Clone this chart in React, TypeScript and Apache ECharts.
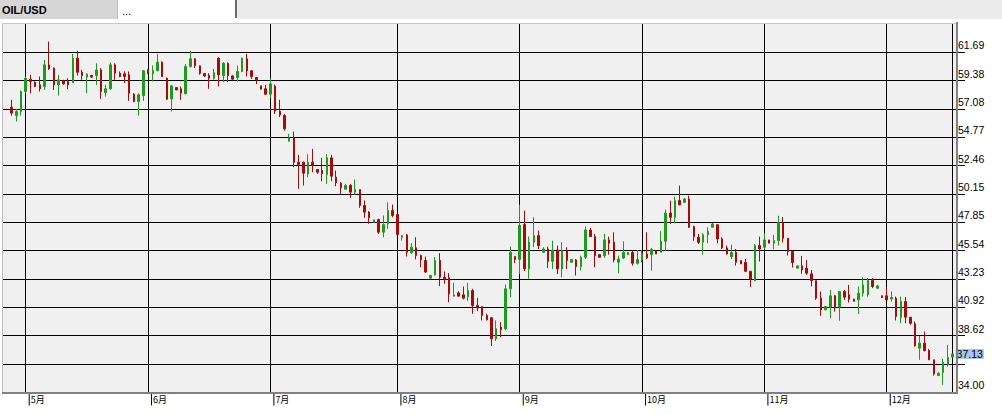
import React, { useEffect, useRef } from "react";
import * as echarts from "echarts";

// ---- data ----
const opens = [
  57.21, 56.53, 56.86, 58.49, 59.49, 59.25, 59.03, 58.9, 60.66, 60.39,
  59.03, 59.38, 59.3, 59.22, 61.2, 60.06, 59.66, 59.79, 59.79, 60.25,
  58.41, 58.71, 60.66, 59.98, 59.93, 59.85, 58.27, 57.67, 58.16, 60.25,
  59.93, 60.2, 60.88, 59.57, 57.89, 58.81, 58.71, 58.3, 60.52, 61.15,
  60.58, 59.95, 59.79, 59.57, 61.2, 59.79, 60.79, 59.76, 59.63, 60.12,
  61.15, 60.17, 59.63, 58.95, 58.71, 58.27, 58.92, 56.89, 56.53, 54.44,
  54.71, 52.74, 52.74, 51.79, 52.74, 52.14, 52.06, 51.73, 53.09, 51.52,
  51.03, 50.54, 50.84, 50.3, 50.51, 49.21, 48.67, 47.85, 48.07, 47.04,
  47.72, 48.8, 48.48, 46.63, 46.82, 45.37, 45.77, 45.14, 44.74, 43.3,
  43.57, 44.74, 43.38, 43.33, 41.83, 42.1, 41.94, 41.78, 42.29, 41.07,
  40.99, 40.26, 40.07, 38.36, 39.31, 39.18, 42.43, 45.06, 44.82, 47.66,
  44.06, 46.22, 46.76, 45.4, 45.67, 44.67, 45.59, 44.05, 45.54, 44.59,
  44.78, 44.24, 45.0, 47.22, 46.68, 45.21, 45.13, 46.41, 46.22, 44.59,
  44.94, 45.21, 45.4, 44.51, 44.78, 45.27, 45.22, 45.54, 45.4, 46.3,
  48.6, 48.25, 49.61, 49.47, 49.74, 47.49, 46.62, 46.22, 46.84, 47.44,
  47.65, 46.49, 45.76, 45.05, 45.4, 44.73, 44.59, 43.86, 43.1, 45.95,
  45.82, 46.41, 46.14, 46.36, 47.82, 46.55, 45.46, 44.11, 44.3, 44.11,
  43.65, 43.1, 41.67, 40.72, 40.93, 41.86, 40.99, 42.21, 41.94, 41.59,
  41.53, 42.07, 41.94, 43.1, 42.48, 41.86, 41.86, 41.61, 41.67, 40.1,
  41.4, 40.12, 39.58, 37.6, 38.01, 37.41, 36.65, 35.37, 35.62, 36.24,
  36.87,
];
const highs = [
  57.81, 57.08, 58.57, 59.71, 59.85, 59.3, 59.71, 61.07, 62.56, 60.44,
  59.85, 59.45, 59.57, 61.55, 61.8, 60.25, 59.98, 59.85, 60.79, 60.39,
  59.03, 60.85, 60.79, 60.12, 60.12, 60.12, 58.35, 58.35, 60.25, 60.3,
  60.6, 61.55, 60.93, 59.63, 59.03, 58.85, 58.9, 60.71, 61.8, 61.2,
  60.6, 60.0, 59.98, 60.33, 61.26, 60.88, 60.85, 59.8, 60.6, 61.26,
  61.55, 60.25, 59.65, 58.97, 59.03, 59.57, 59.05, 57.81, 56.67, 55.04,
  55.23, 53.33, 52.79, 53.39, 53.82, 52.14, 53.09, 53.39, 53.33, 52.06,
  51.11, 50.97, 50.97, 51.33, 50.51, 49.62, 48.75, 48.05, 48.13, 48.4,
  49.48, 49.29, 48.48, 46.77, 46.9, 46.15, 46.63, 45.22, 45.06, 43.57,
  45.01, 45.33, 43.84, 43.71, 42.92, 42.24, 42.62, 42.92, 42.43, 41.7,
  40.99, 40.4, 40.13, 39.86, 39.72, 42.78, 45.87, 45.06, 49.29, 48.8,
  46.69, 48.25, 47.17, 45.81, 45.86, 46.35, 45.95, 46.22, 45.81, 44.86,
  44.86, 45.13, 47.49, 47.38, 46.9, 45.21, 46.9, 46.68, 47.03, 45.13,
  46.3, 45.4, 45.54, 45.59, 45.59, 47.03, 45.76, 45.54, 47.11, 48.88,
  49.61, 49.93, 50.83, 49.82, 50.01, 47.57, 46.9, 46.95, 47.44, 47.79,
  47.65, 46.62, 45.95, 46.03, 45.67, 44.73, 44.86, 43.86, 46.08, 46.68,
  46.95, 46.41, 46.82, 48.37, 48.26, 46.55, 45.46, 44.3, 45.11, 44.79,
  43.97, 43.1, 42.21, 40.99, 42.34, 41.94, 42.21, 42.34, 42.75, 41.62,
  42.62, 43.37, 43.3, 43.3, 42.75, 41.88, 42.56, 42.21, 41.8, 41.8,
  41.75, 40.12, 39.77, 38.6, 38.95, 37.54, 36.65, 35.62, 36.71, 37.87,
  37.13,
];
const lows = [
  56.53, 56.05, 56.53, 58.35, 58.35, 58.85, 58.49, 58.62, 60.25, 58.62,
  58.16, 59.05, 58.68, 59.17, 59.79, 59.44, 58.35, 59.6, 59.03, 57.89,
  58.08, 58.62, 59.44, 59.65, 59.17, 57.73, 57.62, 56.53, 57.73, 59.9,
  59.3, 60.12, 59.71, 57.81, 56.86, 58.6, 57.81, 58.27, 60.44, 60.39,
  59.85, 59.7, 58.71, 59.44, 58.9, 59.25, 59.25, 59.45, 59.3, 60.06,
  59.71, 59.52, 59.09, 58.65, 58.22, 57.95, 56.67, 56.4, 55.31, 54.44,
  52.33, 50.57, 50.84, 51.52, 51.92, 51.79, 51.19, 50.97, 51.19, 50.78,
  50.16, 50.54, 49.83, 50.11, 49.02, 48.21, 47.72, 47.85, 46.9, 46.63,
  47.31, 48.26, 46.85, 46.36, 45.06, 45.28, 44.82, 44.19, 43.73, 43.25,
  43.52, 42.65, 42.84, 41.34, 41.83, 41.83, 41.56, 41.43, 40.4, 40.61,
  39.86, 39.86, 37.77, 38.18, 38.5, 39.04, 41.75, 44.52, 43.65, 43.87,
  43.25, 45.81, 45.67, 45.4, 44.13, 44.05, 43.64, 43.37, 44.05, 44.59,
  43.51, 43.91, 44.86, 46.68, 44.19, 44.94, 44.94, 45.21, 44.59, 43.7,
  44.86, 45.21, 44.32, 44.4, 44.59, 44.86, 43.91, 45.27, 45.4, 45.54,
  47.71, 47.76, 49.26, 49.47, 47.38, 46.35, 46.08, 45.21, 46.14, 47.44,
  46.14, 45.67, 45.21, 44.86, 44.32, 44.46, 43.79, 42.57, 43.05, 44.65,
  45.65, 46.14, 45.65, 45.95, 46.2, 45.14, 44.16, 44.11, 43.65, 43.57,
  42.62, 41.53, 40.23, 40.72, 40.04, 40.58, 39.83, 41.53, 41.32, 41.4,
  40.39, 41.8, 41.8, 42.48, 42.4, 41.7, 41.53, 41.4, 39.85, 39.63,
  39.63, 39.5, 37.73, 36.65, 37.33, 36.65, 35.37, 35.37, 34.62, 36.11,
  36.87,
];
const closes = [
  56.73, 56.86, 58.49, 59.57, 59.3, 58.9, 58.71, 60.66, 60.33, 59.03,
  59.44, 59.11, 59.03, 61.2, 60.06, 59.79, 59.9, 59.66, 60.25, 58.49,
  58.71, 60.66, 59.98, 59.71, 59.71, 58.35, 57.67, 58.22, 60.17, 59.98,
  60.2, 60.88, 59.71, 57.86, 58.95, 58.62, 58.35, 60.52, 61.15, 60.6,
  59.98, 59.75, 59.57, 60.03, 59.85, 60.79, 59.79, 59.49, 60.12, 61.2,
  60.17, 59.71, 59.44, 58.68, 58.27, 59.11, 56.89, 56.59, 55.45, 54.71,
  52.74, 52.55, 51.84, 52.74, 52.47, 51.92, 51.79, 53.09, 51.6, 51.06,
  50.65, 50.84, 50.3, 50.51, 49.21, 48.67, 48.21, 48.05, 47.04, 47.66,
  48.8, 48.4, 46.85, 46.77, 45.41, 45.82, 45.14, 44.79, 43.79, 43.52,
  44.74, 43.38, 43.25, 42.02, 41.94, 41.83, 41.67, 42.29, 41.07, 40.88,
  40.26, 39.91, 38.36, 39.18, 39.1, 42.43, 45.41, 44.82, 47.58, 44.06,
  46.23, 46.76, 45.95, 45.67, 44.67, 45.59, 44.05, 45.54, 44.73, 44.81,
  44.24, 45.0, 47.22, 46.68, 45.13, 45.0, 46.41, 46.14, 44.78, 44.86,
  45.4, 45.4, 44.51, 44.81, 45.32, 44.94, 45.62, 45.27, 46.3, 48.6,
  48.25, 49.61, 49.26, 49.74, 47.44, 46.68, 46.22, 46.84, 47.11, 47.71,
  46.49, 45.76, 45.27, 45.4, 44.59, 44.46, 43.86, 43.23, 45.95, 45.67,
  46.41, 46.14, 46.36, 47.82, 46.55, 45.46, 44.57, 44.3, 43.97, 43.7,
  43.1, 41.67, 40.72, 40.99, 41.86, 40.93, 42.21, 41.75, 41.59, 41.42,
  42.07, 42.75, 43.1, 42.62, 42.67, 41.72, 41.53, 41.72, 40.18, 41.4,
  40.12, 39.63, 37.79, 38.01, 37.41, 36.65, 35.51, 35.56, 36.45, 36.84,
  37.13,
];

// first bar date (bars exist Sun-Fri)
const FIRST_BAR = { year: 2015, month: 4, day: 28 };
const yMin = 34;
const yMax = 64;
const yTickLabels = [
  "34.00", "36.31", "38.62", "40.92", "43.23", "45.54", "47.85",
  "50.15", "52.46", "54.77", "57.08", "59.38", "61.69", "64.00",
];
const symbolName = "OIL/USD";
const secondTab = "...";

const GREEN = "#1e9a1e";
const RED = "#a80a0a";

function buildDates(n: number): string[] {
  const out: string[] = [];
  const d = new Date(Date.UTC(FIRST_BAR.year, FIRST_BAR.month - 1, FIRST_BAR.day));
  while (out.length < n) {
    if (d.getUTCDay() !== 6) out.push(d.toISOString().slice(0, 10));
    d.setUTCDate(d.getUTCDate() + 1);
  }
  return out;
}

export default function App() {
  const ref = useRef<HTMLDivElement>(null);

  useEffect(() => {
    if (!ref.current) return;
    const chart = echarts.init(ref.current, null, { renderer: "svg" });

    const n = opens.length;
    const dates = buildDates(n);
    const monthStarts = new Set<number>();
    for (let i = 1; i < n; i++) {
      if (dates[i].slice(5, 7) !== dates[i - 1].slice(5, 7)) monthStarts.add(i);
    }
    const vLines = new Set<number>(monthStarts);
    vLines.add(n - 1);
    const lastClose = closes[n - 1];
    const step = (yMax - yMin) / (yTickLabels.length - 1);

    const candles = opens.map((o, i) => [o, closes[i], lows[i], highs[i]]);

    const gridTop = 23.8;
    const gridBottom = 22.6;

    const option: any = {
      animation: false,
      backgroundColor: "#ffffff",
      grid: [
        { left: 2, right: 37, top: gridTop, bottom: gridBottom },
        { left: 11.6, right: 49.4, top: gridTop, bottom: gridBottom },
      ],
      xAxis: [
        { type: "value", gridIndex: 0, min: 0, max: 1, show: false },
        {
          type: "category",
          gridIndex: 1,
          data: dates,
          boundaryGap: false,
          axisLine: { show: false },
          axisTick: { show: false },
          splitLine: {
            show: true,
            interval: (i: number) => vLines.has(i),
            lineStyle: { color: "#000000", width: 1 },
          },
          axisLabel: {
            interval: (i: number) => monthStarts.has(i),
            align: "left",
            margin: 1,
            formatter: (v: string) => `{s|}{b|}{t|${parseInt(v.slice(5, 7), 10)}月}`,
            rich: {
              s: { width: 3, height: 12 },
              b: { width: 1, height: 12, backgroundColor: "#000000" },
              t: {
                padding: [0, 0, 0, 1],
                fontSize: 9,
                fontFamily: "Noto Sans CJK SC",
                color: "#000000",
              },
            },
          },
        },
      ],
      yAxis: [
        {
          type: "value",
          gridIndex: 0,
          position: "right",
          min: 0,
          max: yTickLabels.length - 1,
          interval: 1,
          axisLine: { show: false },
          axisTick: { show: false },
          splitLine: {
            show: true,
            showMinLine: false,
            showMaxLine: false,
            lineStyle: { color: "#000000", width: 1 },
          },
          axisLabel: {
            margin: -7,
            verticalAlign: "bottom",
            fontSize: 10.5,
            fontFamily: "Liberation Sans",
            color: "#000000",
            padding: [0, 0, 1.5, 0],
            formatter: (v: number) => {
              const i = Math.round(v);
              if (i >= yTickLabels.length - 1) return "";
              const price = yMin + i * step;
              if (Math.abs(price - lastClose) < 1.2) return "";
              return yTickLabels[i];
            },
          },
        },
        { type: "value", gridIndex: 1, min: yMin, max: yMax, show: false },
      ],
      graphic: {
        elements: [
          // tab bar
          { type: "rect", silent: true, shape: { x: 0, y: 0, width: 1002, height: 19 }, style: { fill: "#ececec" } },
          { type: "rect", silent: true, shape: { x: 0, y: 0, width: 117, height: 19 }, style: { fill: "#d6d6d6" } },
          { type: "rect", silent: true, shape: { x: 118, y: 0, width: 118, height: 19 }, style: { fill: "#ffffff" } },
          { type: "line", silent: true, shape: { x1: 117.5, y1: 0, x2: 117.5, y2: 19 }, style: { stroke: "#c0c0c0", lineWidth: 1 } },
          { type: "line", silent: true, shape: { x1: 236, y1: 0, x2: 236, y2: 18 }, style: { stroke: "#6a6a6a", lineWidth: 2 } },
          {
            type: "text", silent: true, x: 2, y: 9.5,
            style: { text: symbolName, fontSize: 11, fontWeight: "bold", fontFamily: "Liberation Sans", fill: "#000000", verticalAlign: "middle" },
          },
          {
            type: "text", silent: true, x: 122, y: 11,
            style: { text: secondTab, fontSize: 11, fontFamily: "Liberation Sans", fill: "#000000", verticalAlign: "middle" },
          },
          // chart background
          { type: "rect", silent: true, z: -10, shape: { x: 2, y: 23, width: 954, height: 369.5 }, style: { fill: "#f0f0f0" } },
          // frame
          { type: "line", silent: true, z: 10, shape: { x1: 2.5, y1: 23, x2: 2.5, y2: 392 }, style: { stroke: "#bdbdbd", lineWidth: 1 } },
          { type: "line", silent: true, z: 10, shape: { x1: 2, y1: 23.5, x2: 957, y2: 23.5 }, style: { stroke: "#c8c8c8", lineWidth: 1 } },
          { type: "line", silent: true, z: 10, shape: { x1: 957, y1: 22, x2: 957, y2: 394 }, style: { stroke: "#808080", lineWidth: 2 } },
          { type: "line", silent: true, z: 10, shape: { x1: 2, y1: 393, x2: 958, y2: 393 }, style: { stroke: "#808080", lineWidth: 2 } },
        ],
      },
      series: [
        {
          type: "candlestick",
          xAxisIndex: 1,
          yAxisIndex: 1,
          data: candles,
          barWidth: 2,
          clip: false,
          itemStyle: {
            color: GREEN,
            color0: RED,
            borderColor: GREEN,
            borderColor0: RED,
            borderColorDoji: GREEN,
            borderWidth: 1,
          },
          markLine: {
            silent: true,
            symbol: ["none", "none"],
            animation: false,
            data: [{ yAxis: lastClose }],
            lineStyle: { color: "rgba(0,0,0,0)", width: 0, type: "solid" },
            label: {
              show: true,
              position: "end",
              distance: 3,
              formatter: () => lastClose.toFixed(2),
              color: "#000000",
              backgroundColor: "#a6c4f0",
              fontSize: 10.5,
              fontFamily: "Liberation Sans",
              lineHeight: 10,
              padding: [0, 1, 0, 1],
            },
          },
        },
      ],
    };

    chart.setOption(option);
    return () => chart.dispose();
  }, []);

  return (
    <div
      ref={ref}
      style={{ position: "absolute", left: 0, top: 0, width: 1002, height: 415 }}
    />
  );
}
